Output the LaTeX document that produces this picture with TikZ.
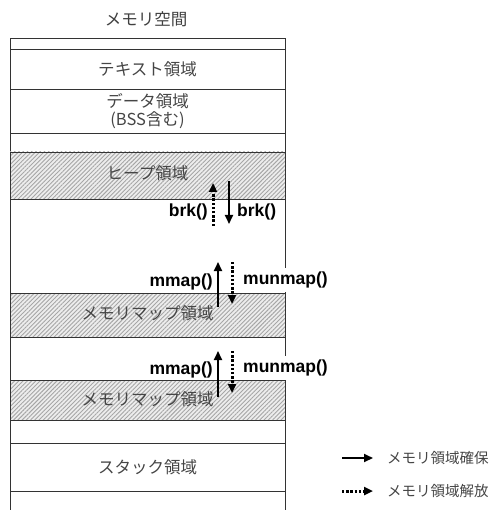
\documentclass[tikz,border=0pt]{standalone}
\usepackage{fontspec}
\newfontfamily\jp{Noto Sans CJK JP}
\newfontfamily\lab{Liberation Sans}
\usetikzlibrary{patterns.meta,arrows.meta}
\definecolor{txtgray}{HTML}{454545}
\tikzset{
  region/.style={draw=black!80, line width=0.8pt, minimum width=275pt, inner sep=0pt, text=txtgray, font=\jp\fontsize{16.5}{18}\selectfont, align=center},
  hatched/.style={region, preaction={fill=gray!14}, pattern={Lines[angle=45,distance=3pt,line width=0.9pt]}, pattern color=gray!70},
  calllabel/.style={font=\lab\bfseries\fontsize{17.5}{19}\selectfont, inner sep=1pt},
  alloc/.style={line width=2pt, -{Triangle[length=9pt,width=8pt]}},
  release/.style={line width=3pt, dash pattern=on 2.4pt off 1.8pt, -{Triangle[length=9pt,width=8pt]}},
  legtext/.style={font=\jp\fontsize{14.5}{16}\selectfont, text=txtgray, anchor=west, inner sep=0pt}
}
\begin{document}
\begin{tikzpicture}[x=1pt,y=-1pt]
\useasboundingbox (0,0) rectangle (499,510);
\node[font=\jp\fontsize{16.5}{18}\selectfont, text=black!75] (title) at (146,19) {メモリ空間};
% regions
\node[region, minimum height=11pt] (r0) at (147.5,43.5) {};
\node[region, minimum height=40pt] (text) at (147.5,69) {テキスト領域};
\node[region, minimum height=44pt] (data) at (147.5,111) {データ領域\\(BSS含む)};
\node[region, minimum height=19pt] (r3) at (147.5,142.5) {};
\node[hatched, minimum height=47pt] (heap) at (147.5,175.5) {};
\node[region, draw=none] at (147.5,173) {ヒープ領域};
\node[region, minimum height=94pt] (free) at (147.5,246) {};
\node[hatched, minimum height=44pt] (mmap1) at (147.5,315) {};
\node[region, draw=none] at (147.5,313) {メモリマップ領域};
\node[region, minimum height=43pt] (r7) at (147.5,358.5) {};
\node[hatched, minimum height=40pt] (mmap2) at (147.5,400) {};
\node[region, draw=none] at (147.5,399) {メモリマップ領域};
\node[region, minimum height=23pt] (r9) at (147.5,431.5) {};
\node[region, minimum height=48pt] (stack) at (147.5,467) {スタック領域};
\node[region, minimum height=40pt] (r11) at (147.5,511) {};
% arrows
\coordinate (b1s) at (213,226); \coordinate (b1e) at (213,183);
\coordinate (b2s) at (229,181); \coordinate (b2e) at (229,224);
\draw[release] (b1s) -- (b1e);
\draw[alloc] (b2s) -- (b2e);
\coordinate (m1s) at (218,307); \coordinate (m1e) at (218,262);
\coordinate (u1s) at (232,262); \coordinate (u1e) at (232,304);
\draw[alloc] (m1s) -- (m1e);
\draw[release] (u1s) -- (u1e);
\coordinate (m2s) at (218,397); \coordinate (m2e) at (218,351);
\coordinate (u2s) at (232,351); \coordinate (u2e) at (232,393);
\draw[alloc] (m2s) -- (m2e);
\draw[release] (u2s) -- (u2e);
% labels
\node[calllabel, anchor=east] (brkL) at (209,212) {brk()};
\node[calllabel, anchor=west] (brkR) at (236,212) {brk()};
\node[calllabel, anchor=east] (mmapL1) at (214,282) {mmap()};
\node[calllabel, anchor=west, fill=white, minimum height=24pt] (munmap1) at (242,280) {munmap()};
\node[calllabel, anchor=east] (mmapL2) at (214,370) {mmap()};
\node[calllabel, anchor=west, fill=white, minimum height=24pt] (munmap2) at (242,368) {munmap()};
% legend
\coordinate (l1s) at (342,458); \coordinate (l1e) at (373,458);
\coordinate (l2s) at (342,491); \coordinate (l2e) at (373,491);
\draw[alloc] (l1s) -- (l1e);
\draw[release] (l2s) -- (l2e);
\node[legtext] (leg1) at (387,458) {メモリ領域確保};
\node[legtext] (leg2) at (387,491) {メモリ領域解放};
\end{tikzpicture}
\end{document}
